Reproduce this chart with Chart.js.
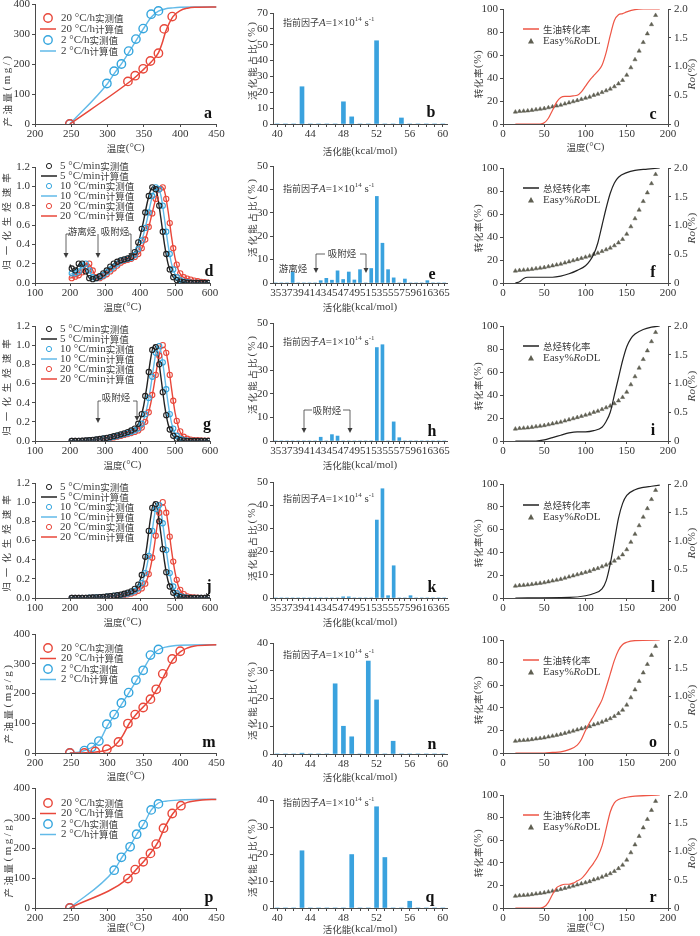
<!DOCTYPE html>
<html>
<head>
<meta charset="utf-8">
<script src="https://cdn.jsdelivr.net/npm/chart.js@4.4.1/dist/chart.umd.min.js"></script>
<style>
  html, body { margin: 0; padding: 0; background: #fff; }
  #page { position: relative; width: 700px; height: 936px; overflow: hidden; background: #fff; }
  #page canvas { position: absolute; }
</style>
</head>
<body>
<div id="page"></div>
<script>
// ---- a / m / p: oil yield (mg/g) vs temperature (°C) ----
const aMeasT20 = [248, 328, 338, 349, 359, 370, 378, 389];
const aMeasY20 = [0, 142, 161, 184, 210, 236, 317, 358];
const aMeasT2 = [248, 299, 309, 319, 329, 339, 349, 360, 370];
const aMeasY2 = [0, 135, 176, 200, 243, 283, 318, 366, 377];
const aCalcT20 = [248, 330, 340, 350, 360, 370, 375, 380, 390, 400, 410, 420, 450];
const aCalcY20 = [0, 140, 160, 183, 207, 237, 268, 308, 358, 378, 386, 389, 390];
const aCalcT2 = [248, 300, 310, 320, 330, 340, 350, 360, 370, 380, 390, 400, 420, 450];
const aCalcY2 = [0, 135, 171, 204, 241, 281, 320, 356, 376, 384, 387, 389, 390, 390];

const mMeasT20 = [248, 268, 283, 299, 315, 328, 338, 349, 359, 367, 376, 389, 400];
const mMeasY20 = [0, 0, 5, 13, 37, 99, 129, 153, 181, 214, 266, 316, 342];
const mMeasT2 = [248, 268, 278, 288, 299, 309, 319, 329, 339, 349, 359, 370];
const mMeasY2 = [0, 8, 19, 40, 97, 129, 168, 203, 245, 278, 329, 348];
const mCalcT20 = [248, 270, 290, 300, 310, 320, 330, 340, 350, 360, 370, 380, 390, 400, 410, 420, 450];
const mCalcY20 = [0, 1, 5, 10, 25, 55, 100, 132, 157, 185, 222, 270, 314, 340, 353, 360, 364];
const mCalcT2 = [248, 260, 270, 280, 290, 300, 310, 320, 330, 340, 350, 360, 370, 380, 400, 450];
const mCalcY2 = [0, 3, 10, 22, 45, 93, 128, 167, 205, 245, 285, 325, 347, 356, 362, 364];

const pMeasT20 = [248, 328, 338, 349, 359, 367, 377, 389, 401];
const pMeasY20 = [0, 98, 128, 154, 182, 213, 266, 315, 341];
const pMeasT2 = [248, 309, 319, 331, 340, 349, 360, 370];
const pMeasY2 = [0, 126, 169, 204, 246, 278, 327, 347];
const pCalcT20 = [248, 328, 340, 350, 360, 370, 378, 390, 400, 410, 430, 450];
const pCalcY20 = [0, 98, 130, 156, 186, 222, 265, 315, 340, 352, 360, 362];
const pCalcT2 = [248, 309, 320, 330, 340, 350, 360, 370, 380, 400, 450];
const pCalcY2 = [0, 126, 170, 203, 245, 281, 326, 350, 356, 360, 363];

// ---- d / g / j: normalised generation rate ----
const rateT = [200, 210, 220, 230, 240, 250, 260, 270, 280, 290, 300, 310, 320, 330, 340, 350, 360, 370, 380, 390, 400,
  410, 420, 430, 440, 450, 460, 470, 480, 490, 500, 510, 520, 530, 540, 550, 560, 570, 580, 590, 600];
const rateTMeas = [205, 215, 225, 235, 245, 255, 265, 275, 285, 295, 305, 315, 325, 335, 345, 355, 365, 375, 385, 395,
  405, 415, 425, 435, 445, 455, 465, 475, 485, 495, 505, 515, 525, 535, 545, 555, 565, 575, 585, 595];

const dCalc5 = [0.19, 0.12, 0.16, 0.21, 0.16, 0.08, 0.04, 0.04, 0.06, 0.09, 0.12, 0.15, 0.18, 0.21, 0.23, 0.24, 0.25, 0.26, 0.29, 0.36, 0.48,
  0.64, 0.82, 0.96, 1.0, 0.9, 0.66, 0.4, 0.2, 0.09, 0.04, 0.02, 0.01, 0.005, 0, 0, 0, 0, 0, 0, 0];
const dCalc10 = [0.09, 0.1, 0.11, 0.15, 0.2, 0.17, 0.09, 0.05, 0.05, 0.07, 0.1, 0.13, 0.16, 0.19, 0.22, 0.235, 0.245, 0.255, 0.27, 0.31, 0.39,
  0.5, 0.65, 0.82, 0.96, 1.0, 0.9, 0.66, 0.4, 0.2, 0.09, 0.04, 0.02, 0.01, 0.005, 0, 0, 0, 0, 0, 0];
const dCalc20 = [0.05, 0.06, 0.07, 0.09, 0.14, 0.2, 0.17, 0.09, 0.05, 0.06, 0.08, 0.11, 0.14, 0.17, 0.2, 0.22, 0.235, 0.245, 0.26, 0.28, 0.32,
  0.4, 0.51, 0.65, 0.8, 0.93, 1.0, 0.95, 0.75, 0.48, 0.26, 0.13, 0.07, 0.05, 0.04, 0.03, 0.02, 0.015, 0.01, 0.005, 0];
const dMeas5 = [0.15, 0.13, 0.2, 0.2, 0.12, 0.05, 0.04, 0.05, 0.07, 0.1, 0.13, 0.17, 0.2, 0.22, 0.235, 0.245, 0.255, 0.27, 0.32, 0.42,
  0.56, 0.73, 0.9, 0.99, 0.97, 0.8, 0.53, 0.3, 0.14, 0.06, 0.03, 0.015, 0.008, 0.003, 0, 0, 0, 0, 0, 0];
const dMeas10 = [0.1, 0.1, 0.12, 0.18, 0.2, 0.13, 0.06, 0.05, 0.06, 0.08, 0.11, 0.14, 0.17, 0.2, 0.23, 0.24, 0.25, 0.26, 0.29, 0.35,
  0.44, 0.57, 0.73, 0.9, 0.99, 0.97, 0.8, 0.53, 0.3, 0.14, 0.06, 0.03, 0.015, 0.008, 0.003, 0, 0, 0, 0, 0];
const dMeas20 = [0.05, 0.065, 0.08, 0.11, 0.17, 0.2, 0.13, 0.06, 0.05, 0.07, 0.09, 0.12, 0.15, 0.18, 0.21, 0.23, 0.24, 0.25, 0.27, 0.3,
  0.36, 0.45, 0.58, 0.72, 0.87, 0.97, 0.99, 0.87, 0.62, 0.36, 0.19, 0.1, 0.06, 0.045, 0.035, 0.025, 0.018, 0.012, 0.008, 0.003];

const gCalc5 = [0, 0, 0, 0.002, 0.004, 0.006, 0.01, 0.014, 0.018, 0.024, 0.03, 0.037, 0.045, 0.054, 0.064, 0.075, 0.086, 0.1, 0.12, 0.15, 0.22,
  0.36, 0.58, 0.85, 1.0, 0.92, 0.66, 0.38, 0.18, 0.08, 0.035, 0.015, 0.006, 0.002, 0, 0, 0, 0, 0, 0, 0];
const gCalc10 = [0, 0, 0, 0.002, 0.003, 0.005, 0.008, 0.012, 0.016, 0.021, 0.027, 0.033, 0.04, 0.048, 0.057, 0.067, 0.077, 0.088, 0.1, 0.12, 0.15,
  0.22, 0.35, 0.55, 0.8, 0.99, 0.93, 0.68, 0.4, 0.19, 0.08, 0.035, 0.015, 0.006, 0.002, 0, 0, 0, 0, 0, 0];
const gCalc20 = [0, 0, 0, 0.001, 0.002, 0.004, 0.007, 0.01, 0.014, 0.018, 0.023, 0.028, 0.034, 0.041, 0.049, 0.058, 0.068, 0.078, 0.089, 0.1, 0.12,
  0.16, 0.24, 0.38, 0.58, 0.8, 0.96, 0.98, 0.82, 0.55, 0.3, 0.14, 0.06, 0.03, 0.018, 0.012, 0.009, 0.007, 0.005, 0.004, 0.003];
const gMeas5 = [0, 0, 0.001, 0.003, 0.005, 0.008, 0.012, 0.016, 0.021, 0.027, 0.033, 0.041, 0.05, 0.059, 0.07, 0.08, 0.093, 0.11, 0.13, 0.18,
  0.28, 0.47, 0.72, 0.95, 0.98, 0.8, 0.51, 0.27, 0.12, 0.055, 0.024, 0.01, 0.004, 0.001, 0, 0, 0, 0, 0, 0];
const gMeas10 = [0, 0, 0.001, 0.002, 0.004, 0.006, 0.01, 0.014, 0.018, 0.024, 0.03, 0.036, 0.044, 0.052, 0.062, 0.072, 0.082, 0.094, 0.11, 0.13,
  0.18, 0.28, 0.45, 0.67, 0.92, 0.99, 0.82, 0.54, 0.28, 0.13, 0.055, 0.024, 0.01, 0.004, 0.001, 0, 0, 0, 0, 0];
const gMeas20 = [0, 0, 0, 0.001, 0.003, 0.005, 0.008, 0.012, 0.016, 0.02, 0.025, 0.031, 0.037, 0.045, 0.053, 0.063, 0.073, 0.083, 0.095, 0.11,
  0.14, 0.2, 0.3, 0.48, 0.69, 0.89, 1.0, 0.92, 0.69, 0.42, 0.21, 0.1, 0.045, 0.024, 0.015, 0.01, 0.008, 0.006, 0.0045, 0.0035];

const jCalc5 = [0, 0, 0, 0, 0.001, 0.002, 0.004, 0.006, 0.008, 0.011, 0.014, 0.018, 0.022, 0.027, 0.033, 0.04, 0.05, 0.062, 0.08, 0.11, 0.18,
  0.32, 0.55, 0.83, 1.0, 0.92, 0.66, 0.38, 0.18, 0.08, 0.035, 0.015, 0.006, 0.002, 0, 0, 0, 0, 0, 0, 0];
const jCalc10 = [0, 0, 0, 0, 0.001, 0.002, 0.003, 0.005, 0.007, 0.009, 0.012, 0.015, 0.019, 0.023, 0.028, 0.034, 0.042, 0.052, 0.065, 0.085, 0.12,
  0.2, 0.34, 0.56, 0.83, 1.0, 0.9, 0.64, 0.37, 0.17, 0.075, 0.03, 0.012, 0.005, 0.002, 0, 0, 0, 0, 0, 0];
const jCalc20 = [0, 0, 0, 0, 0, 0.001, 0.002, 0.004, 0.005, 0.007, 0.009, 0.012, 0.015, 0.019, 0.023, 0.028, 0.034, 0.042, 0.052, 0.066, 0.087,
  0.12, 0.19, 0.32, 0.52, 0.78, 0.97, 0.97, 0.78, 0.5, 0.27, 0.12, 0.055, 0.025, 0.012, 0.007, 0.004, 0.003, 0.002, 0.001, 0];
const jMeas5 = [0, 0, 0, 0.001, 0.002, 0.003, 0.005, 0.007, 0.01, 0.012, 0.016, 0.02, 0.025, 0.03, 0.036, 0.045, 0.056, 0.07, 0.095, 0.14,
  0.24, 0.43, 0.7, 0.94, 0.98, 0.8, 0.51, 0.27, 0.12, 0.055, 0.024, 0.01, 0.004, 0.001, 0, 0, 0, 0, 0, 0];
const jMeas10 = [0, 0, 0, 0.001, 0.001, 0.003, 0.004, 0.006, 0.008, 0.01, 0.013, 0.017, 0.021, 0.025, 0.031, 0.038, 0.047, 0.058, 0.075, 0.1,
  0.155, 0.26, 0.44, 0.7, 0.93, 0.97, 0.78, 0.5, 0.26, 0.12, 0.05, 0.02, 0.008, 0.003, 0.001, 0, 0, 0, 0, 0];
const jMeas20 = [0, 0, 0, 0, 0.001, 0.002, 0.003, 0.004, 0.006, 0.008, 0.01, 0.013, 0.017, 0.021, 0.025, 0.031, 0.038, 0.047, 0.058, 0.075,
  0.1, 0.15, 0.25, 0.42, 0.65, 0.89, 1.0, 0.89, 0.64, 0.38, 0.19, 0.085, 0.04, 0.018, 0.009, 0.005, 0.003, 0.002, 0.001, 0.0005];

// ---- b / e / h / k / n / q: activation energy distribution (%) ----
const energyShort = [40, 41, 42, 43, 44, 45, 46, 47, 48, 49, 50, 51, 52, 53, 54, 55, 56, 57, 58, 59, 60];
const energyLong = [35, 36, 37, 38, 39, 40, 41, 42, 43, 44, 45, 46, 47, 48, 49, 50, 51, 52, 53, 54, 55, 56, 57, 58, 59, 60,
  61, 62, 63, 64, 65];
const barB = [0, 0, 0, 23.5, 0, 0, 0, 0, 14, 4.5, 0, 0, 52.5, 0, 0, 3.8, 0, 0, 0, 0, 0];
const barN = [0, 0, 0, 0.3, 0, 0, 0, 25.3, 10, 6.2, 0, 33.5, 19.5, 0, 4.6, 0, 0, 0, 0, 0, 0];
const barQ = [0, 0, 0, 21.2, 0, 0, 0, 0, 0, 19.8, 0, 0, 37.5, 18.7, 0, 0, 2.5, 0, 0, 0, 0];
const barE = [0, 0, 0, 4.8, 0, 0, 0, 0, 1, 2, 1.2, 5.2, 1.5, 4.7, 1.3, 5.7, 0, 6.2, 37, 17, 5.7, 2.2, 0, 1.7, 0, 0, 0, 1, 0, 0, 0];
const barH = [0, 0, 0, 0, 0, 0, 0, 0, 1.6, 0, 2.7, 2.1, 0, 0, 0, 0, 0, 0, 39.6, 40.8, 0, 8.1, 1.4, 0, 0, 0, 0, 0, 0, 0, 0];
const barK = [0, 0, 0, 0, 0, 0, 0, 0, 0, 0, 0, 0, 0.5, 0.5, 0, 0, 0, 0, 33.6, 47.1, 1, 13.9, 0, 0, 1, 0, 0, 0, 0, 0, 0];

// ---- c / f / i / l / o / r: conversion (%) and Easy%RoDL ----
const easyT = [15, 20, 25, 30, 35, 40, 45, 50, 55, 60, 65, 70, 75, 80, 85, 90, 95, 100, 105, 110, 115, 120, 125, 130, 135,
  140, 145, 150, 155, 160, 165, 170, 175, 180, 185];
const easyRo = [0.21, 0.22, 0.225, 0.23, 0.24, 0.25, 0.26, 0.27, 0.285, 0.3, 0.315, 0.33, 0.35, 0.37, 0.39, 0.41, 0.43, 0.45,
  0.47, 0.5, 0.52, 0.55, 0.58, 0.61, 0.65, 0.7, 0.76, 0.85, 0.98, 1.12, 1.27, 1.42, 1.57, 1.73, 1.89];
const cT = [15, 45, 50, 55, 60, 65, 70, 75, 80, 85, 90, 95, 100, 105, 110, 115, 120, 125, 130, 135, 140, 145, 150, 160, 170, 190];
const cY = [0, 0, 1, 5, 12, 19, 23, 24, 24, 24.5, 25, 28, 33, 38, 42, 46, 51, 62, 77, 90, 95, 96, 97.5, 99.5, 100, 100];
const fT = [15, 20, 25, 30, 60, 70, 80, 90, 100, 105, 110, 115, 120, 125, 130, 135, 140, 150, 160, 175, 190];
const fY = [0, 1, 4, 5, 5, 6, 8, 11, 15, 19, 25, 35, 50, 65, 78, 87, 92, 96, 98, 99, 100];
const iT = [15, 40, 50, 60, 70, 80, 90, 100, 110, 120, 125, 130, 135, 140, 145, 150, 155, 160, 170, 180, 190];
const iY = [0, 0, 1, 3, 5, 7, 8, 8, 9, 12, 17, 25, 40, 55, 70, 82, 89, 93, 97, 99, 100];
const lT = [15, 80, 100, 110, 120, 125, 130, 135, 140, 145, 150, 160, 170, 180, 190];
const lY = [0, 0.5, 2, 4, 8, 15, 30, 50, 70, 83, 90, 95, 97, 98, 99];
const oT = [15, 50, 60, 70, 80, 90, 95, 100, 105, 110, 115, 120, 125, 130, 135, 140, 145, 150, 160, 190];
const oY = [0, 0, 0.5, 1, 3, 7, 12, 20, 27, 33, 40, 47, 58, 70, 82, 91, 96, 98, 99.5, 100];
const rT = [15, 45, 50, 55, 60, 65, 70, 75, 80, 85, 90, 95, 100, 105, 110, 115, 120, 125, 130, 135, 140, 150, 160, 190];
const rY = [0, 0, 1, 5, 12, 18, 20, 21, 21, 22, 24, 26, 30, 35, 40, 46, 55, 70, 85, 93, 96, 98, 99, 100];

// ---- styles ----
const LATIN = "'Liberation Serif', 'Times New Roman', serif";
const HAN = "'Noto Sans CJK SC', sans-serif";
const TEXT = '#3c3c3c';
const AXIS = '#4a4a4a';
const RED = '#E8473A';
const BLUE = '#36A6DE';
const BLUE_LINE = '#62BAE8';
const BLACK = '#222222';
const BAR = '#3AA2DE';
const TRI = '#5f5f52';
const COLS = { L: [0, 234], M: [236, 232], R: [470, 230] };

const page = document.getElementById('page');
const decoByCanvas = new Map();

const xy = (xs, ys) => xs.map((x, i) => ({ x, y: ys[i] }));

// split text into latin / CJK runs so the Chinese glyphs come out a bit smaller
function runs(text, size) {
  const out = [];
  for (const ch of text) {
    const han = ch.charCodeAt(0) > 0x2e80;
    const last = out[out.length - 1];
    if (last && last.han === han) last.t += ch;
    else out.push({ t: ch, han });
  }
  return out.map(r => ({ t: r.t, f: r.han ? `${size - 1.5}px ${HAN}` : `${size}px ${LATIN}` }));
}

function drawParts(ctx, parts, x, y, align) {
  let w = 0;
  parts.forEach(p => { ctx.font = p.f; p.w = ctx.measureText(p.t).width; w += p.w; });
  let cx = align === 'center' ? x - w / 2 : align === 'right' ? x - w : x;
  ctx.textAlign = 'left';
  ctx.textBaseline = 'middle';
  parts.forEach(p => { ctx.font = p.f; ctx.fillText(p.t, cx, y + (p.dy || 0)); cx += p.w; });
}

function drawVertical(ctx, parts, x, y, spacing) {
  ctx.save();
  ctx.translate(x, y);
  ctx.rotate(-Math.PI / 2);
  ctx.letterSpacing = spacing + 'px';
  drawParts(ctx, parts, 0, 0, 'center');
  ctx.restore();
}

const prefactor = () => [
  { t: '指前因子', f: `9px ${HAN}` },
  { t: 'A', f: `italic 11px ${LATIN}` },
  { t: '=1×10', f: `11px ${LATIN}` },
  { t: '14', f: `7px ${LATIN}`, dy: -4 },
  { t: ' s', f: `11px ${LATIN}` },
  { t: '-1', f: `7px ${LATIN}`, dy: -4 }
];
const easyLabel = () => [
  { t: 'Easy%', f: `11px ${LATIN}` },
  { t: 'Ro', f: `italic 11px ${LATIN}` },
  { t: 'DL', f: `11px ${LATIN}` }
];

function drawMarker(ctx, kind, color, x, y) {
  ctx.save();
  ctx.strokeStyle = color;
  ctx.fillStyle = color;
  ctx.beginPath();
  if (kind === 'ring') { ctx.lineWidth = 1.4; ctx.arc(x, y, 4.2, 0, Math.PI * 2); ctx.stroke(); }
  else if (kind === 'dot') { ctx.lineWidth = 1; ctx.arc(x, y, 2.6, 0, Math.PI * 2); ctx.stroke(); }
  else if (kind === 'tri') { ctx.moveTo(x, y - 3); ctx.lineTo(x - 3, y + 2.5); ctx.lineTo(x + 3, y + 2.5); ctx.closePath(); ctx.fill(); }
  else { ctx.lineWidth = 1.5; ctx.moveTo(x - 8, y); ctx.lineTo(x + 8, y); ctx.stroke(); }
  ctx.restore();
}

const decoPlugin = {
  id: 'deco',
  afterDraw(chart) {
    const o = decoByCanvas.get(chart.canvas);
    if (!o) return;
    const ctx = chart.ctx;
    const a = chart.chartArea;
    ctx.save();
    ctx.translate(-o.ox, -o.oy); // draw in page coordinates
    const L = a.left + o.ox, R = a.right + o.ox, B = a.bottom + o.oy;
    ctx.fillStyle = TEXT;
    ctx.strokeStyle = TEXT;
    if (o.xTitle) drawParts(ctx, runs(o.xTitle, 11), (L + R) / 2, B + (o.xOff || 24), 'center');
    if (o.yTitle) drawVertical(ctx, runs(o.yTitle[0], 11), o.yTitle[1], o.yTitle[2], o.yTitle[3]);
    if (o.roTitle) {
      drawVertical(ctx, [{ t: 'Ro', f: `italic 11px ${LATIN}` }, { t: '(%)', f: `11px ${LATIN}` }], o.roTitle[0], o.roTitle[1], 0.5);
    }
    if (o.note) drawParts(ctx, prefactor(), o.note[0], o.note[1], 'left');
    if (o.legend) {
      const lg = o.legend;
      lg.items.forEach((it, i) => {
        const y = lg.y + i * lg.dy;
        drawMarker(ctx, it[0], it[1], lg.x, y);
        ctx.fillStyle = TEXT;
        drawParts(ctx, it[2] === 'easy' ? easyLabel() : runs(it[2], 11), lg.tx, y, 'left');
      });
    }
    (o.texts || []).forEach(t => drawParts(ctx, runs(t[0], 11), t[1], t[2], 'center'));
    (o.arrows || []).forEach(([x, y0, y1, hook]) => {
      ctx.lineWidth = 0.8;
      ctx.beginPath();
      ctx.moveTo(x + hook, y0);
      ctx.lineTo(x, y0);
      ctx.lineTo(x, y1 - 4);
      ctx.stroke();
      ctx.beginPath();
      ctx.moveTo(x, y1);
      ctx.lineTo(x - 2.5, y1 - 5);
      ctx.lineTo(x + 2.5, y1 - 5);
      ctx.closePath();
      ctx.fill();
    });
    if (o.letter) {
      ctx.fillStyle = '#111';
      ctx.font = `bold 16px ${LATIN}`;
      ctx.textAlign = 'center';
      ctx.textBaseline = 'middle';
      ctx.fillText(o.letter[0], o.letter[1], o.letter[2]);
    }
    ctx.restore();
  }
};
Chart.register(decoPlugin);

function axisBase(min, max, step, fmt) {
  return {
    type: 'linear', min, max,
    grid: { drawOnChartArea: false, drawTicks: true, tickLength: 3, color: AXIS, offset: false },
    border: { color: AXIS, width: 1 },
    ticks: { stepSize: step, font: { family: LATIN, size: 11 }, color: '#333', padding: 1, maxRotation: 0, autoSkip: false, callback: fmt }
  };
}

// g = chart area in page coordinates; canvas is placed so the plot lands there
function mount(g, config, deco) {
  const [x0, w] = COLS[g.col];
  const top = g.top - 14;
  const h = g.bottom - g.top + 50;
  const cv = document.createElement('canvas');
  cv.width = w;
  cv.height = h;
  cv.style.left = x0 + 'px';
  cv.style.top = top + 'px';
  cv.style.width = w + 'px';
  cv.style.height = h + 'px';
  page.appendChild(cv);
  const sc = config.options.scales;
  sc.x.afterFit = s => { s.height = 36; };
  sc.y.afterFit = s => { s.width = g.left - x0; };
  sc.y.ticks.padding = 2;
  if (sc.y1) sc.y1.afterFit = s => { s.width = x0 + w - g.right; };
  config.options.layout = { padding: { top: 14, left: 0, bottom: 0, right: sc.y1 ? 0 : x0 + w - g.right } };
  config.options.responsive = false;
  config.options.animation = false;
  config.options.events = [];
  config.options.plugins = { legend: { display: false }, tooltip: { enabled: false } };
  decoByCanvas.set(cv, Object.assign({ ox: x0, oy: top }, deco));
  return new Chart(cv.getContext('2d'), config);
}

const ring = (data, color, r, bw) => ({
  data, showLine: false, borderColor: color, backgroundColor: 'rgba(0,0,0,0)',
  pointRadius: r, pointBorderWidth: bw, pointHoverRadius: r
});
const curve = (data, color, bw, yAxisID) => ({
  data, showLine: true, borderColor: color, borderWidth: bw, pointRadius: 0,
  cubicInterpolationMode: 'monotone', yAxisID: yAxisID || 'y'
});

function yieldPanel(g, s, deco) {
  const datasets = [
    ring(xy(s[0], s[1]), RED, 4.2, 1.4),
    ring(xy(s[2], s[3]), BLUE, 4.2, 1.4),
    curve(xy(s[4], s[5]), RED, 1.5),
    curve(xy(s[6], s[7]), BLUE_LINE, 1.4)
  ];
  const legend = { x: 48, tx: 61, y: deco.legendY, dy: deco.legendDy || 11, items: [
    ['ring', RED, '20 °C/h实测值'], ['line', RED, '20 °C/h计算值'],
    ['ring', BLUE, '2 °C/h实测值'], ['line', BLUE_LINE, '2 °C/h计算值']
  ] };
  return mount(g, {
    type: 'scatter',
    data: { datasets },
    options: { scales: { x: axisBase(200, 450, 50), y: axisBase(0, 400, 100) } }
  }, Object.assign({ legend, xTitle: '温度(°C)' }, deco));
}

function ratePanel(g, s, deco) {
  const datasets = [
    ring(xy(rateTMeas, s[0]), BLACK, 2.6, 1.1),
    ring(xy(rateTMeas, s[1]), BLUE, 2.6, 1.1),
    ring(xy(rateTMeas, s[2]), RED, 2.6, 1.1),
    curve(xy(rateT, s[3]), BLACK, 1.4),
    curve(xy(rateT, s[4]), BLUE_LINE, 1.4),
    curve(xy(rateT, s[5]), RED, 1.4)
  ];
  const legend = { x: 49, tx: 60, y: deco.legendY, dy: 10, items: [
    ['dot', BLACK, '5 °C/min实测值'], ['line', BLACK, '5 °C/min计算值'],
    ['dot', BLUE, '10 °C/min实测值'], ['line', BLUE_LINE, '10 °C/min计算值'],
    ['dot', RED, '20 °C/min实测值'], ['line', RED, '20 °C/min计算值']
  ] };
  return mount(g, {
    type: 'scatter',
    data: { datasets },
    options: { scales: { x: axisBase(100, 600, 100), y: axisBase(0, 1.2, 0.2, v => v.toFixed(1)) } }
  }, Object.assign({ legend, xTitle: '温度(°C)', yTitle: ['归一化生烃速率', 6, deco.yMid, 5] }, deco));
}

function barPanel(g, cats, vals, ymax, labelStep, thick, deco) {
  const x = axisBase();
  x.type = 'category';
  x.offset = true;
  delete x.min; delete x.max;
  x.ticks.callback = function (v) {
    const lab = Number(this.getLabelForValue(v));
    return (lab - cats[0]) % labelStep === 0 ? String(lab) : '';
  };
  return mount(g, {
    type: 'bar',
    data: { labels: cats, datasets: [{ data: vals, backgroundColor: BAR, barThickness: thick }] },
    options: { scales: { x, y: axisBase(0, ymax, 10) } }
  }, Object.assign({ xTitle: '活化能(kcal/mol)', yTitle: ['活化能占比(%)', 252, deco.yMid, 2] }, deco));
}

function convPanel(g, ts, ys, label, color, deco) {
  const datasets = [
    curve(xy(ts, ys), color, 1.2),
    { data: xy(easyT, easyRo), yAxisID: 'y1', showLine: false, pointStyle: 'triangle', pointRadius: 2.4,
      backgroundColor: TRI, borderColor: TRI, borderWidth: 0.5 }
  ];
  const y1 = axisBase(0, 2, 0.5, v => (v === 0 ? '0' : v.toFixed(1)));
  y1.position = 'right';
  y1.ticks.padding = 3;
  const legend = { x: 531, tx: 543, y: deco.legendY, dy: 12, items: [['line', color, label], ['tri', TRI, 'easy']] };
  return mount(g, {
    type: 'scatter',
    data: { datasets },
    options: { scales: { x: axisBase(0, 200, 50), y: axisBase(0, 100, 20), y1 } }
  }, Object.assign({ legend, yTitle: ['转化率(%)', 478, deco.yMid, 0.6], roTitle: [692, deco.yMid] }, deco));
}

// ---- left column ----
yieldPanel({ col: 'L', left: 35, right: 216.5, top: 4, bottom: 124 },
  [aMeasT20, aMeasY20, aMeasT2, aMeasY2, aCalcT20, aCalcY20, aCalcT2, aCalcY2],
  { legendY: 18, yTitle: ['产油量(mg/)', 7, 90, 2.5], letter: ['a', 208, 114] });
ratePanel({ col: 'L', left: 35, right: 210, top: 167, bottom: 283 },
  [dMeas5, dMeas10, dMeas20, dCalc5, dCalc10, dCalc20],
  { legendY: 166, yMid: 219, letter: ['d', 209, 272],
    texts: [['游离烃', 82, 231], ['吸附烃', 115, 231]],
    arrows: [[66, 234, 258, 4], [98, 234, 258, 0], [131, 234, 258, -3]] });
ratePanel({ col: 'L', left: 35, right: 210, top: 326, bottom: 441 },
  [gMeas5, gMeas10, gMeas20, gCalc5, gCalc10, gCalc20],
  { legendY: 329, yMid: 385, letter: ['g', 207, 425],
    texts: [['吸附烃', 116, 397]],
    arrows: [[98, 401, 423, 3], [137, 401, 421, -4]] });
ratePanel({ col: 'L', left: 35, right: 210, top: 483, bottom: 598 },
  [jMeas5, jMeas10, jMeas20, jCalc5, jCalc10, jCalc20],
  { legendY: 487, yMid: 541, letter: ['j', 209, 587] });
yieldPanel({ col: 'L', left: 35, right: 216.5, top: 634, bottom: 753 },
  [mMeasT20, mMeasY20, mMeasT2, mMeasY2, mCalcT20, mCalcY20, mCalcT2, mCalcY2],
  { legendY: 648, legendDy: 10.5, xOff: 23, yTitle: ['产油量(mg/g)', 8, 703, 2.5], letter: ['m', 209, 743] });
yieldPanel({ col: 'L', left: 35, right: 216.5, top: 788, bottom: 908 },
  [pMeasT20, pMeasY20, pMeasT2, pMeasY2, pCalcT20, pCalcY20, pCalcT2, pCalcY2],
  { legendY: 803, legendDy: 10.5, xOff: 19, yTitle: ['产油量(mg/g)', 8, 857, 2.5], letter: ['p', 209, 898] });

// ---- middle column ----
barPanel({ col: 'M', left: 273, right: 447, top: 13, bottom: 124 }, energyShort, barB, 70, 4, 4,
  { yMid: 60, note: [283, 23], xOff: 27, letter: ['b', 431, 113] });
barPanel({ col: 'M', left: 273, right: 447, top: 166, bottom: 283 }, energyLong, barE, 50, 2, 3,
  { yMid: 217, note: [283, 189], letter: ['e', 432, 275],
    texts: [['游离烃', 293, 268], ['吸附烃', 342, 253]],
    arrows: [[316, 254, 273, 9], [366, 254, 273, -6]] });
barPanel({ col: 'M', left: 273, right: 447, top: 323, bottom: 441 }, energyLong, barH, 50, 2, 3,
  { yMid: 374, note: [283, 342], letter: ['h', 432, 432],
    texts: [['吸附烃', 327, 410]],
    arrows: [[304, 410, 433, 8], [350, 410, 433, -7]] });
barPanel({ col: 'M', left: 273, right: 447, top: 482, bottom: 598 }, energyLong, barK, 50, 2, 3,
  { yMid: 541, note: [283, 499], letter: ['k', 432, 588] });
barPanel({ col: 'M', left: 273, right: 447, top: 643, bottom: 754 }, energyShort, barN, 40, 4, 4,
  { yMid: 700, note: [283, 655], xOff: 23, letter: ['n', 432, 745] });
barPanel({ col: 'M', left: 273, right: 447, top: 800, bottom: 908 }, energyShort, barQ, 40, 4, 4,
  { yMid: 857, note: [283, 803], xOff: 21, letter: ['q', 430, 898] });

// ---- right column ----
convPanel({ col: 'R', left: 503, right: 668, top: 9, bottom: 124 }, cT, cY, '生油转化率', '#EE5545',
  { legendY: 29, yMid: 74, xTitle: '温度(°C)', xOff: 23, letter: ['c', 653, 115] });
convPanel({ col: 'R', left: 503, right: 668, top: 168, bottom: 283 }, fT, fY, '总烃转化率', BLACK,
  { legendY: 188, yMid: 228, letter: ['f', 653, 273] });
convPanel({ col: 'R', left: 503, right: 668, top: 326, bottom: 441 }, iT, iY, '总烃转化率', BLACK,
  { legendY: 346, yMid: 386, letter: ['i', 653, 431] });
convPanel({ col: 'R', left: 503, right: 668, top: 484, bottom: 598 }, lT, lY, '总烃转化率', BLACK,
  { legendY: 505, yMid: 543, letter: ['l', 653, 588] });
convPanel({ col: 'R', left: 503, right: 668, top: 640, bottom: 753 }, oT, oY, '生油转化率', '#EE5545',
  { legendY: 660, yMid: 700, letter: ['o', 653, 743] });
convPanel({ col: 'R', left: 503, right: 668, top: 795, bottom: 908 }, rT, rY, '生油转化率', '#EE5545',
  { legendY: 815, yMid: 853, xTitle: '温度(°C)', xOff: 19, letter: ['r', 653, 898] });
</script>
</body>
</html>
